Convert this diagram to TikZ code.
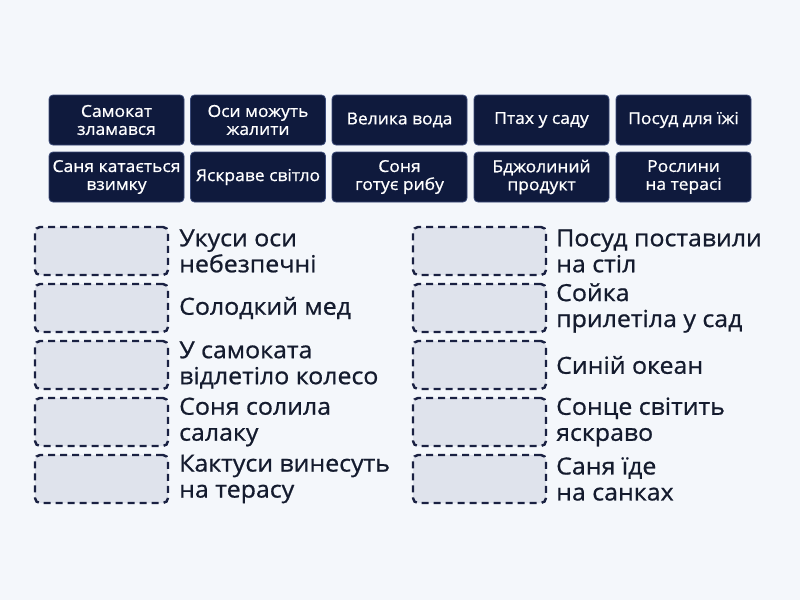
\documentclass[tikz,border=0pt]{standalone}
\usepackage{fontspec}
\setmainfont{Open Sans}
\newfontfamily\phrasefont[FakeStretch=1.06, FakeBold=0.8]{Open Sans}
\newfontfamily\cardfont[FakeStretch=1.06, FakeBold=0.8]{Open Sans}
\definecolor{bg}{HTML}{F4F7FB}
\definecolor{navy}{HTML}{0F1A3D}
\definecolor{navyedge}{HTML}{3A4A78}
\definecolor{slot}{HTML}{DFE3EC}
\definecolor{dashc}{HTML}{1A2142}
\definecolor{txt}{HTML}{141B2E}
\tikzset{
  card/.style={draw=navyedge, line width=0.8pt, fill=navy, rounded corners=4pt,
    minimum width=135pt, minimum height=50pt, inner sep=0pt, text=white,
    align=center, font=\cardfont\fontsize{16.5pt}{18pt}\selectfont},
  slotbox/.style={draw=dashc, line width=2.4pt, dash pattern=on 7pt off 5pt,
    fill=slot, rounded corners=5pt, minimum width=133pt, minimum height=48pt, inner sep=0pt},
  phrase/.style={anchor=west, align=left, inner sep=0pt, text=txt,
    font=\phrasefont\fontsize{23.5pt}{26pt}\selectfont}
}
\begin{document}
\begin{tikzpicture}[x=1pt,y=-1pt]
\fill[bg] (0,0) rectangle (800,600);
\useasboundingbox (0,0) rectangle (800,600);
% cards row 1
\node[card] (c1) at (116.5,120) {Самокат\\зламався};
\node[card] (c2) at (258,120) {Оси можуть\\жалити};
\node[card] (c3) at (399.5,120) {Велика вода};
\node[card] (c4) at (541.5,120) {Птах у саду};
\node[card] (c5) at (683.5,120) {Посуд для їжі};
% cards row 2
\node[card] (c6) at (116.5,177) {Саня катається\\взимку};
\node[card] (c7) at (258,177) {Яскраве світло};
\node[card] (c8) at (399.5,177) {Соня\\готує рибу};
\node[card] (c9) at (541.5,177) {Бджолиний\\продукт};
\node[card] (c10) at (683.5,177) {Рослини\\на терасі};
% left slots
\node[slotbox] (s1) at (101.5,251) {};
\node[slotbox] (s2) at (101.5,308) {};
\node[slotbox] (s3) at (101.5,365) {};
\node[slotbox] (s4) at (101.5,422) {};
\node[slotbox] (s5) at (101.5,479) {};
\node[phrase] (p1) at (179,251) {Укуси оси\\небезпечні};
\node[phrase] (p2) at (179,308) {Солодкий мед};
\node[phrase] (p3) at (179,365) {У самоката\\відлетіло колесо};
\node[phrase] (p4) at (179,422) {Соня солила\\салаку};
\node[phrase] (p5) at (179,479) {Кактуси винесуть\\на терасу};
% right slots
\node[slotbox] (s6) at (479.5,251) {};
\node[slotbox] (s7) at (479.5,308) {};
\node[slotbox] (s8) at (479.5,365) {};
\node[slotbox] (s9) at (479.5,422) {};
\node[slotbox] (s10) at (479.5,479) {};
\node[phrase] (p6) at (556,251) {Посуд поставили\\на стіл};
\node[phrase] (p7) at (556,308) {Сойка\\прилетіла у сад};
\node[phrase] (p8) at (556,365) {Синій океан};
\node[phrase] (p9) at (556,422) {Сонце світить\\яскраво};
\node[phrase] (p10) at (556,479) {Саня їде\\на санках};
\end{tikzpicture}
\end{document}
